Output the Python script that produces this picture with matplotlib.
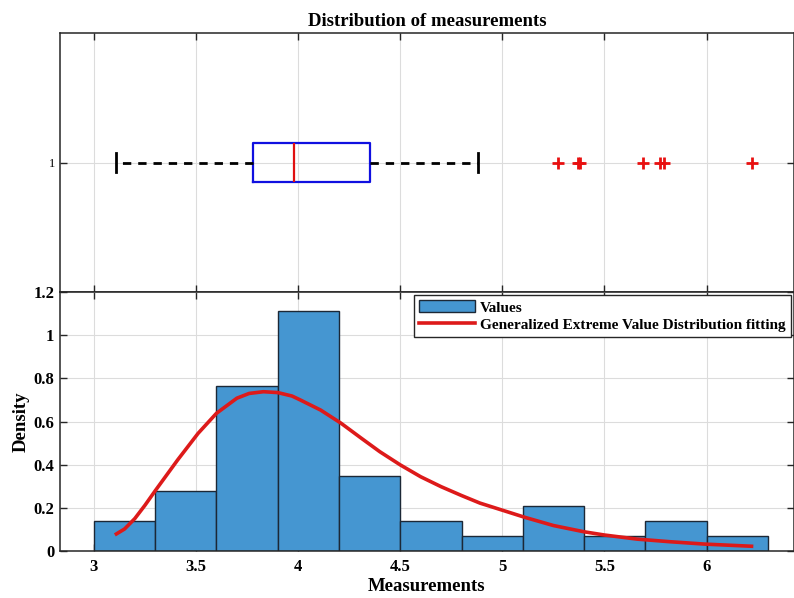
import numpy as np
import matplotlib.pyplot as plt

plt.rcParams['font.family'] = ['Liberation Serif', 'DejaVu Serif']

# Histogram: bin edges and counts (bin width 0.3)
bin_edges = [3.0, 3.3, 3.6, 3.9, 4.2, 4.5, 4.8, 5.1, 5.4, 5.7, 6.0, 6.3]
bin_counts = [2, 4, 11, 16, 5, 2, 1, 3, 1, 2, 1]

# Box plot summary
whisker_low = 3.11
q1 = 3.78
median = 3.98
q3 = 4.35
whisker_high = 4.88
outliers = [5.27, 5.37, 5.38, 5.69, 5.77, 5.79, 6.22]

# Generalized extreme value fit
fit_x = [3.11, 3.15, 3.20, 3.25, 3.30, 3.41, 3.51, 3.60, 3.70, 3.76, 3.83, 3.90, 3.97,
         4.01, 4.11, 4.21, 4.31, 4.40, 4.50, 4.60, 4.70, 4.80, 4.89, 5.01,
         5.11, 5.25, 5.40, 5.50, 5.66, 5.82, 5.99, 6.22]
fit_y = [0.079, 0.102, 0.150, 0.212, 0.279, 0.422, 0.545, 0.638, 0.708, 0.730, 0.738, 0.734, 0.718,
         0.700, 0.653, 0.592, 0.522, 0.460, 0.399, 0.344, 0.298, 0.257, 0.222, 0.186,
         0.156, 0.118, 0.089, 0.074, 0.055, 0.043, 0.032, 0.022]

edges = np.array(bin_edges)
widths = np.diff(edges)
density = np.array(bin_counts) / (np.sum(bin_counts) * widths)

xlim = (2.834, 6.428)
xticks = [3, 3.5, 4, 4.5, 5, 5.5, 6]
frame = '#262626'

fig = plt.figure(figsize=(7.94, 5.98), dpi=100)
ax1 = fig.add_axes([0.0756, 0.5117, 0.9244, 0.4331])
ax2 = fig.add_axes([0.0756, 0.0786, 0.9244, 0.4331])

for ax in (ax1, ax2):
    ax.set_xlim(*xlim)
    ax.set_xticks(xticks)
    ax.grid(True, color='#dcdcdc', linewidth=0.8)
    ax.set_axisbelow(True)
    ax.tick_params(direction='in', length=5, width=1, color=frame,
                   top=True, right=True)
    for s in ax.spines.values():
        s.set_color(frame)
        s.set_linewidth(1.1)

# Top: box plot
stats = [dict(whislo=whisker_low, q1=q1, med=median, q3=q3,
              whishi=whisker_high, fliers=outliers)]
ax1.bxp(stats, positions=[1], widths=0.15, capwidths=0.073,
        orientation='horizontal', showfliers=True,
        boxprops=dict(color='#1010e0', linewidth=1.6),
        whiskerprops=dict(color='black', linewidth=2, linestyle=(0, (3, 2.5))),
        capprops=dict(color='black', linewidth=2),
        medianprops=dict(color='#e01010', linewidth=1.6),
        flierprops=dict(marker='+', markeredgecolor='#e81010', markersize=8,
                        markeredgewidth=2, linestyle='none'))
ax1.set_ylim(0.5, 1.5)
ax1.set_yticks([1])
ax1.set_yticklabels(['1'], fontsize=9)
ax1.set_xticklabels([])
ax1.set_title('Distribution of measurements', fontsize=13.5, fontweight='bold', pad=5)

# Bottom: histogram and fit
bars = ax2.bar(edges[:-1], density, width=widths, align='edge', color='#4596d1',
               edgecolor='#1c2836', linewidth=1, label='Values')
line, = ax2.plot(fit_x, fit_y, color='#dd1a1a', linewidth=2.6,
                 label='Generalized Extreme Value Distribution fitting')
ax2.set_ylim(0, 1.2)
ax2.set_yticks([0, 0.2, 0.4, 0.6, 0.8, 1, 1.2])
ax2.set_yticklabels(['0', '0.2', '0.4', '0.6', '0.8', '1', '1.2'])
ax2.set_xticklabels(['3', '3.5', '4', '4.5', '5', '5.5', '6'])
for lab in ax2.get_xticklabels() + ax2.get_yticklabels():
    lab.set_fontweight('bold')
    lab.set_fontsize(12)
ax2.tick_params(axis='x', pad=6)
ax2.tick_params(axis='y', pad=4)
ax2.set_xlabel('Measurements', fontsize=13.5, fontweight='bold', labelpad=2)
ax2.set_ylabel('Density', fontsize=13.5, fontweight='bold', labelpad=3)

leg = ax2.legend(handles=[bars, line], loc='upper right', fancybox=False,
                 framealpha=1, edgecolor=frame, borderpad=0.35, borderaxespad=0.2,
                 handlelength=3.7, handleheight=0.8, handletextpad=0.3,
                 labelspacing=0.2, prop=dict(weight='bold', size=11))
leg.get_frame().set_linewidth(1)

fig.savefig('out.png', dpi=100)
